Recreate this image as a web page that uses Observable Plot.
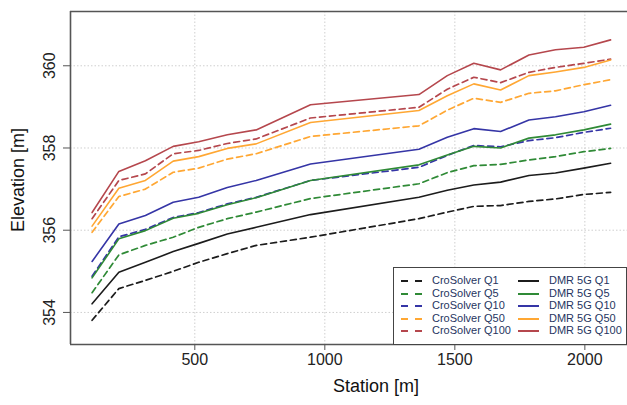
<!DOCTYPE html>
<html><head><meta charset="utf-8">
<script src="https://cdn.jsdelivr.net/npm/d3@7"></script>
<script src="https://cdn.jsdelivr.net/npm/@observablehq/plot@0.6"></script>
<style>
body{margin:0;background:#fff;font-family:"Liberation Sans",Arial,sans-serif;}
#wrap{position:relative;width:627px;height:405px;overflow:hidden;background:#fff;}
#legend{position:absolute;left:393px;top:267px;width:234px;height:78px;box-sizing:border-box;border:1px solid #444;background:#fff;}
.lg{position:absolute;font-size:11px;color:#26355f;white-space:nowrap;line-height:11px;}
.lgsw{position:absolute;}
.xt{position:absolute;font-size:18px;color:#111;white-space:nowrap;transform:translate(-50%,-50%);}
.yt{position:absolute;font-size:18px;color:#111;white-space:nowrap;transform:translate(-50%,-50%) rotate(-90deg);}
</style></head><body>
<div id="wrap"><div id="chart"></div><div id="legend"></div>
<div class="xt" style="left:376px;top:386px;">Station [m]</div>
<div class="yt" style="left:18px;top:180px;">Elevation [m]</div>
</div>
<script>
const stations = [105, 208, 310, 417, 515, 625, 736, 945, 1362, 1471, 1573, 1676, 1785, 1887, 1996, 2099];
const xTicks = [500, 1000, 1500, 2000];
const yTicks = [354, 356, 358, 360];

const croQ1   = [353.81, 354.58, 354.78, 355.00, 355.22, 355.43, 355.63, 355.83, 356.28, 356.44, 356.58, 356.60, 356.70, 356.76, 356.87, 356.92];
const croQ5   = [354.48, 355.40, 355.63, 355.83, 356.07, 356.28, 356.44, 356.77, 357.13, 357.40, 357.57, 357.60, 357.71, 357.79, 357.91, 357.99];
const croQ10  = [354.88, 355.84, 356.02, 356.31, 356.43, 356.64, 356.80, 357.21, 357.53, 357.82, 358.06, 358.03, 358.18, 358.25, 358.38, 358.48];
const croQ50  = [355.95, 356.82, 357.00, 357.41, 357.51, 357.73, 357.86, 358.28, 358.54, 358.92, 359.21, 359.11, 359.33, 359.39, 359.54, 359.66];
const croQ100 = [356.28, 357.21, 357.37, 357.86, 357.94, 358.11, 358.22, 358.73, 358.99, 359.43, 359.72, 359.59, 359.84, 359.96, 360.06, 360.16];
const dmrQ1   = [354.21, 354.98, 355.22, 355.48, 355.68, 355.91, 356.07, 356.38, 356.80, 356.97, 357.10, 357.17, 357.33, 357.39, 357.51, 357.63];
const dmrQ5   = [354.84, 355.79, 355.99, 356.29, 356.41, 356.62, 356.79, 357.21, 357.59, 357.83, 358.04, 358.00, 358.24, 358.32, 358.44, 358.58];
const dmrQ10  = [355.24, 356.15, 356.36, 356.68, 356.80, 357.04, 357.21, 357.61, 357.97, 358.26, 358.47, 358.40, 358.68, 358.76, 358.88, 359.04];
const dmrQ50  = [356.10, 357.02, 357.21, 357.68, 357.79, 357.99, 358.10, 358.62, 358.91, 359.27, 359.56, 359.41, 359.76, 359.85, 359.96, 360.14];
const dmrQ100 = [356.43, 357.43, 357.69, 358.04, 358.15, 358.32, 358.44, 359.05, 359.30, 359.76, 360.06, 359.90, 360.26, 360.39, 360.45, 360.63];

const seriesNames = ["CroSolver Q1","CroSolver Q5","CroSolver Q10","CroSolver Q50","CroSolver Q100",
                     "DMR 5G Q1","DMR 5G Q5","DMR 5G Q10","DMR 5G Q50","DMR 5G Q100"];
const seriesValues = [croQ1, croQ5, croQ10, croQ50, croQ100, dmrQ1, dmrQ5, dmrQ10, dmrQ50, dmrQ100];
const seriesDashed = [true,true,true,true,true,false,false,false,false,false];
const seriesColors = ["#1c1c1c","#2f8a36","#3535a6","#ffa733","#b5474d",
                      "#1c1c1c","#2f8a36","#3535a6","#ffa733","#b5474d"];

const data = [];
seriesNames.forEach((name, k) => {
  stations.forEach((st, i) => data.push({station: st, elev: seriesValues[k][i], name, dashed: seriesDashed[k]}));
});

const chart = Plot.plot({
  width: 627, height: 405,
  marginLeft: 70, marginRight: 0, marginTop: 11, marginBottom: 61,
  x: {domain: [22, 2164]},
  y: {domain: [353.22, 361.32]},
  color: {domain: seriesNames, range: seriesColors},
  style: {fontFamily: "'Liberation Sans', Arial, sans-serif", background: "white", color: "#222"},
  marks: [
    Plot.gridX(xTicks, {stroke: "#cfcfcf", strokeOpacity: 1, strokeDasharray: "1.5,2"}),
    Plot.gridY(yTicks, {stroke: "#cfcfcf", strokeOpacity: 1, strokeDasharray: "1.5,2"}),
    Plot.line(data.filter(d => d.dashed), {x: "station", y: "elev", z: "name", stroke: "name", strokeWidth: 1.7, strokeDasharray: "6,4"}),
    Plot.line(data.filter(d => !d.dashed), {x: "station", y: "elev", z: "name", stroke: "name", strokeWidth: 1.6}),
    Plot.ruleX([22], {stroke: "#555", strokeWidth: 1.6}),
    Plot.ruleY([353.22, 361.32], {stroke: "#555", strokeWidth: 1.6}),
    Plot.axisX({ticks: xTicks, tickSize: 6, tickPadding: 3, fontSize: 16, label: null, stroke: "#555", tickFormat: d => String(d)}),
    Plot.axisY({ticks: yTicks, tickSize: 7, tickFormat: () => "", label: null, stroke: "#555"}),
    Plot.text(yTicks, {frameAnchor: "left", y: d => d, text: d => String(d), rotate: -90, dx: -21,
                       fontSize: 16, textAnchor: "middle", lineAnchor: "middle", fill: "#222"})
  ]
});
document.getElementById("chart").appendChild(chart);

// legend
const lg = document.getElementById("legend");
const colX = [{sw: 7, tx: 38}, {sw: 124, tx: 155}];
seriesNames.forEach((name, k) => {
  const col = k < 5 ? 0 : 1, row = k % 5;
  const cy = 13 + row * 12.6;
  const sw = document.createElementNS("http://www.w3.org/2000/svg", "svg");
  sw.setAttribute("class", "lgsw");
  sw.setAttribute("width", 24); sw.setAttribute("height", 6);
  sw.style.left = colX[col].sw + "px"; sw.style.top = (cy - 3) + "px";
  const ln = document.createElementNS("http://www.w3.org/2000/svg", "line");
  ln.setAttribute("x1", 0); ln.setAttribute("x2", 21); ln.setAttribute("y1", 3); ln.setAttribute("y2", 3);
  ln.setAttribute("stroke", seriesColors[k]); ln.setAttribute("stroke-width", 2);
  if (seriesDashed[k]) ln.setAttribute("stroke-dasharray", "7,7");
  sw.appendChild(ln);
  lg.appendChild(sw);
  const t = document.createElement("div");
  t.className = "lg"; t.textContent = name;
  t.style.left = colX[col].tx + "px"; t.style.top = (cy - 6) + "px";
  lg.appendChild(t);
});
</script>
</body></html>
